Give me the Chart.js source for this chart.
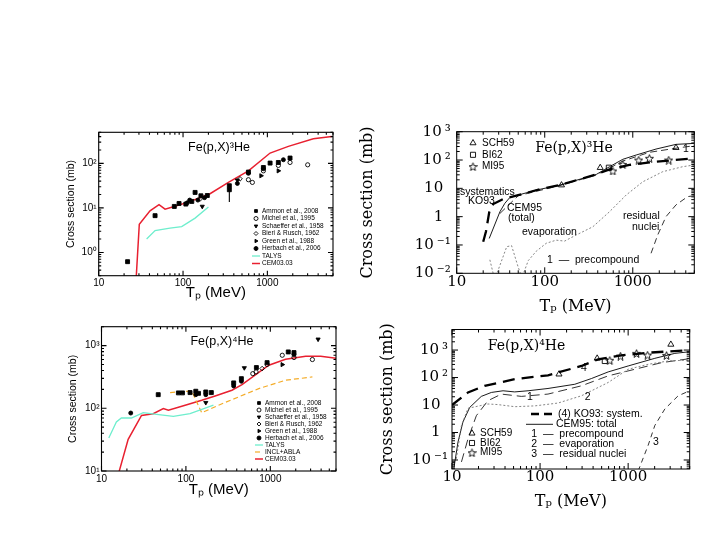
<!DOCTYPE html>
<html>
<head>
<meta charset="utf-8">
<script src="https://cdn.jsdelivr.net/npm/chart.js@4.4.0/dist/chart.umd.min.js"></script>
<style>
  body { margin: 0; background: #fff; }
  #page { position: relative; width: 706px; height: 545px; overflow: hidden; background: #fff; }
  canvas { position: absolute; }
</style>
</head>
<body>
<div id="page">
  <canvas id="he3Left"  width="310" height="185" style="left:40px;top:120px;width:310px;height:185px"></canvas>
  <canvas id="he4Left"  width="310" height="190" style="left:40px;top:315px;width:310px;height:190px"></canvas>
  <canvas id="he3Right" width="354" height="225" style="left:350px;top:100px;width:354px;height:225px"></canvas>
  <canvas id="he4Right" width="334" height="222" style="left:370px;top:318px;width:334px;height:222px"></canvas>
</div>
<script>
// ---------- data : Fe(p,X)3He, left panel ----------
var cemHe3E   = [27, 30.3, 40.6, 51.9, 61.2, 76.8, 115.6, 209, 345, 596, 1077, 1774, 3508, 5800];
var cemHe3Xs  = [0.1, 4.3, 8.6, 11.8, 9.4, 10.6, 13.5, 20.8, 37.4, 68, 171, 241, 358, 404];
var talysHe3E  = [37, 46.6, 70, 96.4, 139, 200];
var talysHe3Xs = [2.0, 3.1, 3.5, 3.8, 5.9, 10.5];
var ammonHe3E  = [22, 46.6, 78.8, 89.7, 108, 127, 139, 163, 194, 354, 354, 596, 897, 1077, 1349, 1857];
var ammonHe3Xs = [0.62, 6.7, 10.8, 12.6, 12.2, 14, 22.3, 18.7, 19, 31.5, 25.6, 63.9, 81, 101.7, 105, 132];
var michelHe3E  = [596, 664, 897, 1349, 1857, 3006];
var michelHe3Xs = [43, 37.4, 68, 90, 105, 93];
var schaefHe3E  = [169, 441];
var schaefHe3Xs = [10.8, 42];
var bieriHe3E  = [160, 474];
var bieriHe3Xs = [16, 45];
var greenHe3E  = [841, 1349];
var greenHe3Xs = [52.8, 68];
var herbHe3E  = [112, 120, 150, 180, 441, 596, 897, 1549];
var herbHe3Xs = [13, 15, 15, 17, 35.5, 60, 76, 121];
var errHe3E = [354], errHe3Lo = [13.5], errHe3Hi = [31.5];

// ---------- data : Fe(p,X)4He, left panel ----------
var cemHe4E   = [15.5, 20.7, 29.8, 41, 54, 62, 98, 154, 222, 351, 462, 697, 960, 1515, 2621, 3957, 6250];
var cemHe4Xs  = [8, 32, 77, 82, 99, 93, 112, 134, 157, 194, 239, 357, 486, 605, 676, 676, 621];
var talysHe4E  = [12.2, 15, 17.2, 22.6, 31.2, 45, 71, 112, 212];
var talysHe4Xs = [33.6, 60.5, 70, 70, 85, 80, 74.5, 82, 112];
var inclHe4E  = [65, 117, 154, 244, 422, 730, 1515, 3150];
var inclHe4Xs = [178, 189, 85, 112, 152, 206, 280, 316];
var ammonHe4E  = [47, 81.5, 91, 112, 131, 141, 172, 200, 368, 454, 684, 916, 1632, 1907];
var ammonHe4Xs = [165, 176, 176, 178, 187, 173, 182, 178, 254, 297, 446, 535, 792, 773];
var michelHe4E  = [620, 678, 916, 1385, 1907, 3150];
var michelHe4Xs = [357, 380, 500, 701, 645, 599];
var schaefHe4E  = [172, 492, 3680];
var schaefHe4Xs = [123, 441, 1262];
var bieriHe4E  = [800];
var bieriHe4Xs = [430];
var greenHe4E  = [1385];
var greenHe4Xs = [497];
var herbHe4E  = [22.2, 131, 172, 368, 454, 1907];
var herbHe4Xs = [84, 165, 165, 227, 270, 720];

// ---------- data : Fe(p,X)3He, right panel ----------
var totHe3E  = [23.4, 31, 35.2, 40, 50, 80.5, 148, 385, 545, 771, 1091, 1837, 3097, 5000];
var totHe3Xs = [0.17, 1.5, 2.95, 4.7, 5.8, 8.7, 13, 31, 58, 106, 150, 244, 357, 387];
var ko93He3E  = [20, 21.5, 23.4, 26, 33.7, 50, 87.8, 148, 385, 545, 916, 1837, 5000];
var ko93He3Xs = [0.13, 0.30, 1.42, 2.8, 4.2, 5.8, 9.2, 13, 31, 47, 67, 87, 115];
var precoHe3E  = [31, 50, 148, 385, 771, 1545, 3370, 5000];
var precoHe3Xs = [1.3, 5.5, 12.5, 29.5, 92, 187, 272, 320];
var evapHe3E  = [23.8, 27, 37, 42, 49.5, 55, 65, 80, 104, 135, 168, 228, 352, 545, 841, 1298, 2188, 3680, 5000];
var evapHe3Xs = [0.03, 0.006, 0.087, 0.095, 0.018, 0.007, 0.028, 0.06, 0.115, 0.148, 0.137, 0.225, 0.44, 1.5, 5.8, 17, 38.7, 58, 67];
var residHe3E  = [1614, 1919, 2385, 3097, 4200, 5000];
var residHe3Xs = [0.051, 0.225, 1, 2.6, 5.1, 5.5];
var sch59He3E = [155, 427, 3097], sch59He3Xs = [13, 53.6, 272];
var bi62He3E = [535], bi62He3Xs = [53.6];
var mi95He3E = [594, 771, 1169, 1545, 2559], mi95He3Xs = [41, 70, 100, 115, 100];

// ---------- data : Fe(p,X)4He, right panel ----------
var totHe4E  = [10.5, 11.7, 13.3, 15.9, 21.5, 28, 38, 51.5, 73, 123, 248, 383, 593, 1000, 2009, 3390, 5000];
var totHe4Xs = [0.05, 0.45, 2.4, 8.2, 20.6, 28.7, 33, 30, 33, 40, 57, 92, 160, 264, 500, 758, 870];
var ko93He4E  = [10, 15.2, 23.5, 51.5, 123, 295, 456, 840, 1686, 5000];
var ko93He4Xs = [10, 28.7, 50, 87, 121, 264, 460, 641, 800, 1000];
var precoHe4E  = [12.8, 15.2, 18.9, 25.6, 36.4, 61.4, 123, 295, 593, 1191, 2393, 5000];
var precoHe4Xs = [0.085, 0.59, 4.1, 14.4, 25, 20.6, 25, 50, 115, 200, 348, 487];
var evapHe4E  = [11.2, 12.8, 15.2, 25.6, 33, 51.5, 87, 160, 295, 593, 1000, 1686, 2838, 5000];
var evapHe4Xs = [0.11, 1.8, 7.6, 10.9, 10.4, 8.7, 9.3, 11.8, 21.7, 66, 200, 303, 400, 435];
var residHe4E  = [1300, 1686, 2009, 2612, 3700, 5000];
var residHe4Xs = [0.04, 0.34, 1.8, 7.2, 21.7, 33];
var sch59He4E = [164, 445, 3055], sch59He4Xs = [132, 500, 1600];
var bi62He4E = [543], bi62He4Xs = [400];
var mi95He4E = [619, 818, 1245, 1660, 2729], mi95He4Xs = [424, 607, 759, 659, 641];

// ---------- tick labels ----------
var energyTicks = [10, 100, 1000];
var energyLabels = ['10', '100', '1000'];
var he3LeftYTicks = [1, 10, 100], he3LeftYLabels = ['10⁰', '10¹', '10²'];
var he4LeftYTicks = [10, 100, 1000], he4LeftYLabels = ['10¹', '10²', '10³'];
var he3RightYTicks = [0.01, 0.1, 1, 10, 100, 1000];
var he3RightYLabels = ['10\u2009⁻²', '10\u2009⁻¹', '1\u2002', '10\u2002', '10\u2009²', '10\u2009³'];
var he4RightYTicks = [0.1, 1, 10, 100, 1000];
var he4RightYLabels = ['10\u2009⁻¹', '1\u2002', '10\u2002', '10\u2009²', '10\u2009³'];

var SANS = '"Liberation Sans", Arial, sans-serif';
var SERIF = '"DejaVu Serif", serif';

function pts(xs, ys) { return xs.map(function (x, i) { return {x: x, y: ys[i]}; }); }

function curve(label, xs, ys, color, width, dash) {
  return {label: label, data: pts(xs, ys), showLine: true, borderColor: color, borderWidth: width,
          borderDash: dash || [], pointRadius: 0, fill: false, tension: 0};
}
function marks(label, xs, ys, style, r, filled, rot) {
  return {label: label, data: pts(xs, ys), showLine: false, pointStyle: style, pointRadius: r,
          pointRotation: rot || 0, pointBackgroundColor: filled ? '#000' : 'rgba(0,0,0,0)',
          pointBorderColor: '#000', pointBorderWidth: 0.9};
}

function starImage(size) {
  var c = document.createElement('canvas');
  c.width = c.height = size;
  var g = c.getContext('2d');
  g.strokeStyle = '#000'; g.lineWidth = 0.9;
  g.beginPath();
  for (var i = 0; i < 10; i++) {
    var r = i % 2 ? size * 0.2 : size * 0.47;
    var a = -Math.PI / 2 + i * Math.PI / 5;
    var px = size / 2 + r * Math.cos(a), py = size / 2 + 0.5 + r * Math.sin(a);
    if (i) g.lineTo(px, py); else g.moveTo(px, py);
  }
  g.closePath(); g.stroke();
  return c;
}

function logSteps(min, max) {
  var out = [];
  for (var d = Math.floor(Math.log10(min)); d <= Math.ceil(Math.log10(max)); d++) {
    for (var m = 1; m < 10; m++) {
      var v = m * Math.pow(10, d);
      if (v >= min * 0.999 && v <= max * 1.001) out.push({v: v, major: m === 1});
    }
  }
  return out;
}

// frame with inward major/minor ticks on all four sides
var frameTicks = {
  id: 'frameTicks',
  afterDatasetsDraw: function (chart, args, o) {
    var ctx = chart.ctx, a = chart.chartArea, x = chart.scales.x, y = chart.scales.y;
    ctx.save();
    ctx.strokeStyle = '#000'; ctx.lineWidth = o.width; ctx.setLineDash([]);
    ctx.strokeRect(a.left, a.top, a.right - a.left, a.bottom - a.top);
    ctx.beginPath();
    logSteps(x.min, x.max).forEach(function (s) {
      var p = x.getPixelForValue(s.v), L = s.major ? o.major : o.minor;
      ctx.moveTo(p, a.bottom); ctx.lineTo(p, a.bottom - L);
      ctx.moveTo(p, a.top); ctx.lineTo(p, a.top + L);
    });
    logSteps(y.min, y.max).forEach(function (s) {
      var p = y.getPixelForValue(s.v), L = s.major ? o.major : o.minor;
      ctx.moveTo(a.left, p); ctx.lineTo(a.left + L, p);
      ctx.moveTo(a.right, p); ctx.lineTo(a.right - L, p);
    });
    ctx.stroke();
    (o.errors || []).forEach(function (e) {
      ctx.beginPath();
      ctx.moveTo(x.getPixelForValue(e[0]), y.getPixelForValue(e[1]));
      ctx.lineTo(x.getPixelForValue(e[0]), y.getPixelForValue(e[2]));
      ctx.stroke();
    });
    ctx.restore();
  }
};

// in-plot key built from the datasets themselves
var keyBox = {
  id: 'keyBox',
  afterDatasetsDraw: function (chart, args, o) {
    if (!o.rows) return;
    var ctx = chart.ctx;
    ctx.save();
    o.rows.forEach(function (label, i) {
      var ds = chart.data.datasets.filter(function (d) { return d.label === label; })[0];
      var y = o.y + i * o.dy;
      if (ds.showLine) {
        ctx.strokeStyle = ds.borderColor; ctx.lineWidth = ds.borderWidth;
        ctx.setLineDash(ds.borderDash || []);
        ctx.beginPath(); ctx.moveTo(o.x - o.len / 2, y); ctx.lineTo(o.x + o.len / 2, y); ctx.stroke();
        ctx.setLineDash([]);
      } else {
        ctx.fillStyle = ds.pointBackgroundColor; ctx.strokeStyle = ds.pointBorderColor;
        ctx.lineWidth = ds.pointBorderWidth;
        Chart.helpers.drawPoint(ctx, {pointStyle: ds.pointStyle, rotation: ds.pointRotation,
          radius: o.r || ds.pointRadius, borderWidth: ds.pointBorderWidth}, o.x, y);
      }
      ctx.fillStyle = '#000'; ctx.font = o.font; ctx.textAlign = 'left'; ctx.textBaseline = 'middle';
      ctx.fillText(label, o.x + o.gap, y);
    });
    ctx.restore();
  }
};

// free text and sample lines placed on the canvas
var notes = {
  id: 'notes',
  afterDatasetsDraw: function (chart, args, o) {
    var ctx = chart.ctx;
    ctx.save();
    (o.lines || []).forEach(function (l) {
      ctx.strokeStyle = '#000'; ctx.lineWidth = l.w; ctx.setLineDash(l.dash || []);
      ctx.beginPath(); ctx.moveTo(l.x1, l.y); ctx.lineTo(l.x2, l.y); ctx.stroke();
    });
    ctx.setLineDash([]);
    (o.items || []).forEach(function (t) {
      ctx.font = t.font; ctx.fillStyle = '#000';
      ctx.textAlign = t.align || 'left'; ctx.textBaseline = 'middle';
      ctx.fillText(t.text, t.x, t.y);
    });
    ctx.restore();
  }
};

function logAxis(o) {
  return {
    type: 'logarithmic', position: o.pos, min: o.min, max: o.max,
    grid: {display: false, drawTicks: false}, border: {display: false},
    afterBuildTicks: function (s) { s.ticks = o.ticks.map(function (v) { return {value: v}; }); },
    afterFit: function (s) { if (o.pos === 'bottom') s.height = o.fit; else s.width = o.fit; },
    ticks: {autoSkip: false, maxRotation: 0, color: '#000', padding: o.pad, font: o.font,
            callback: function (v, i) { return o.labels[i]; }},
    title: {display: true, text: o.title, color: '#000', font: o.titleFont,
            padding: o.pos === 'bottom' ? {top: 0, bottom: o.titlePad} : {top: o.titlePad, bottom: 0}}
  };
}

function panel(id, top, right, xAxis, yAxis, datasets, plugins) {
  plugins.legend = {display: false};
  plugins.tooltip = {enabled: false};
  return new Chart(document.getElementById(id), {
    type: 'scatter',
    data: {datasets: datasets},
    options: {
      responsive: false, animation: false, devicePixelRatio: 1, events: [],
      layout: {padding: {left: 0, top: top, right: right, bottom: 0}},
      plugins: plugins,
      scales: {x: xAxis, y: yAxis}
    },
    plugins: [frameTicks, keyBox, notes]
  });
}

var RED = 'rgb(232,32,48)', CYAN = 'rgb(110,238,205)', ORANGE = 'rgb(244,172,40)';
var sansTick = {family: SANS, size: 10};
var sansTitle = {family: SANS, size: 10.5};
var sansX = {family: SANS, size: 15};
var serifTick = {family: SERIF, size: 15, lineHeight: 1};
var serifTitle = {family: SERIF, size: 16};
var star = starImage(9);

// ---------- top left ----------
panel('he3Left', 12.3, 17,
  logAxis({pos: 'bottom', min: 10, max: 6000, ticks: energyTicks, labels: energyLabels, fit: 29.3, pad: 2,
           font: sansTick, title: 'Tₚ (MeV)', titleFont: sansX, titlePad: 3}),
  logAxis({pos: 'left', min: 0.3, max: 500, ticks: he3LeftYTicks, labels: he3LeftYLabels, fit: 58.7, pad: 2,
           font: sansTick, title: 'Cross section (mb)', titleFont: sansTitle, titlePad: 24.4}),
  [
    marks('Ammon et al., 2008', ammonHe3E, ammonHe3Xs, 'rect', 2.8, true),
    marks('Michel et al., 1995', michelHe3E, michelHe3Xs, 'circle', 2.1, false),
    marks('Schaeffer et al., 1958', schaefHe3E, schaefHe3Xs, 'triangle', 2.4, true, 180),
    marks('Bieri & Rusch, 1962', bieriHe3E, bieriHe3Xs, 'rectRot', 2.3, false),
    marks('Green et al., 1988', greenHe3E, greenHe3Xs, 'triangle', 2.4, true, 90),
    marks('Herbach et al., 2006', herbHe3E, herbHe3Xs, 'circle', 2.0, true),
    curve('TALYS', talysHe3E, talysHe3Xs, CYAN, 1.3),
    curve('CEM03.03', cemHe3E, cemHe3Xs, RED, 1.5)
  ],
  {
    frameTicks: {width: 1.1, major: 5, minor: 2.5, errors: [[errHe3E[0], errHe3Lo[0], errHe3Hi[0]]]},
    keyBox: {x: 216, y: 91, dy: 7.5, gap: 6, len: 8, r: 2, font: '6.5px ' + SANS,
             rows: ['Ammon et al., 2008', 'Michel et al., 1995', 'Schaeffer et al., 1958', 'Bieri & Rusch, 1962',
                    'Green et al., 1988', 'Herbach et al., 2006', 'TALYS', 'CEM03.03']},
    notes: {items: [{text: 'Fe(p,X)³He', x: 179, y: 28, align: 'center', font: '12.5px ' + SANS}]}
  });

// ---------- bottom left ----------
panel('he4Left', 11.7, 14,
  logAxis({pos: 'bottom', min: 10, max: 6000, ticks: energyTicks, labels: energyLabels, fit: 34, pad: 2,
           font: sansTick, title: 'Tₚ (MeV)', titleFont: sansX, titlePad: 6}),
  logAxis({pos: 'left', min: 10, max: 2000, ticks: he4LeftYTicks, labels: he4LeftYLabels, fit: 61.5, pad: 2,
           font: sansTick, title: 'Cross section (mb)', titleFont: sansTitle, titlePad: 26.4}),
  [
    marks('Ammon et al., 2008', ammonHe4E, ammonHe4Xs, 'rect', 2.8, true),
    marks('Michel et al., 1995', michelHe4E, michelHe4Xs, 'circle', 2.1, false),
    marks('Schaeffer et al., 1958', schaefHe4E, schaefHe4Xs, 'triangle', 2.4, true, 180),
    marks('Bieri & Rusch, 1962', bieriHe4E, bieriHe4Xs, 'rectRot', 2.3, false),
    marks('Green et al., 1988', greenHe4E, greenHe4Xs, 'triangle', 2.4, true, 90),
    marks('Herbach et al., 2006', herbHe4E, herbHe4Xs, 'circle', 2.0, true),
    curve('TALYS', talysHe4E, talysHe4Xs, CYAN, 1.3),
    curve('INCL+ABLA', inclHe4E, inclHe4Xs, ORANGE, 1.2, [5, 3]),
    curve('CEM03.03', cemHe4E, cemHe4Xs, RED, 1.5)
  ],
  {
    frameTicks: {width: 1.1, major: 5, minor: 2.5},
    keyBox: {x: 219, y: 88, dy: 7, gap: 6, len: 8, r: 2, font: '6.5px ' + SANS,
             rows: ['Ammon et al., 2008', 'Michel et al., 1995', 'Schaeffer et al., 1958', 'Bieri & Rusch, 1962',
                    'Green et al., 1988', 'Herbach et al., 2006', 'TALYS', 'INCL+ABLA', 'CEM03.03']},
    notes: {items: [{text: 'Fe(p,X)⁴He', x: 182, y: 27, align: 'center', font: '12.5px ' + SANS}]}
  });

// ---------- top right ----------
var noteFont = '10.5px ' + SANS;
panel('he3Right', 31.7, 9.7,
  logAxis({pos: 'bottom', min: 10, max: 5000, ticks: energyTicks, labels: energyLabels, fit: 51.7, pad: 1,
           font: serifTick, title: 'Tₚ (MeV)', titleFont: serifTitle, titlePad: 8.4}),
  logAxis({pos: 'left', min: 0.01, max: 1000, ticks: he3RightYTicks, labels: he3RightYLabels, fit: 106.7, pad: 6,
           font: serifTick, title: 'Cross section (mb)', titleFont: serifTitle, titlePad: 8.4}),
  [
    curve('evaporation', evapHe3E, evapHe3Xs, '#777', 0.9, [2, 2]),
    curve('residual nuclei', residHe3E, residHe3Xs, '#000', 0.8, [6, 4]),
    curve('precompound', precoHe3E, precoHe3Xs, '#000', 0.8, [7, 4]),
    curve('CEM95 total', totHe3E, totHe3Xs, '#000', 0.9),
    curve('KO93', ko93He3E, ko93He3Xs, '#000', 2.3, [12, 7]),
    marks('SCH59', sch59He3E, sch59He3Xs, 'triangle', 3.5, false),
    marks('BI62', bi62He3E, bi62He3Xs, 'rect', 3.6, false),
    marks('MI95', mi95He3E, mi95He3Xs, star, 4, false)
  ],
  {
    frameTicks: {width: 1, major: 6, minor: 3},
    keyBox: {x: 123, y: 43, dy: 11.8, gap: 9, len: 8, font: '10px ' + SANS, rows: ['SCH59', 'BI62', 'MI95']},
    notes: {items: [
      {text: 'Fe(p,X)³He', x: 224, y: 48, align: 'center', font: '14px ' + SERIF},
      {text: 'systematics', x: 110, y: 91.7, font: noteFont},
      {text: 'KO93', x: 118, y: 101, font: noteFont},
      {text: 'CEM95', x: 157, y: 108, font: noteFont},
      {text: '(total)', x: 158, y: 117.7, font: noteFont},
      {text: 'evaporation', x: 172, y: 132, font: noteFont},
      {text: '1  \u2014  precompound', x: 197, y: 160, font: noteFont},
      {text: 'residual', x: 273, y: 116, font: noteFont},
      {text: 'nuclei', x: 282, y: 126.7, font: noteFont},
      {text: '1', x: 333, y: 49, font: noteFont}
    ]}
  });

// ---------- bottom right ----------
panel('he4Right', 10.3, 14.3,
  logAxis({pos: 'bottom', min: 10, max: 5000, ticks: energyTicks, labels: energyLabels, fit: 71, pad: 1,
           font: serifTick, title: 'Tₚ (MeV)', titleFont: serifTitle, titlePad: 28.7}),
  logAxis({pos: 'left', min: 0.047, max: 5600, ticks: he4RightYTicks, labels: he4RightYLabels, fit: 82, pad: 4,
           font: serifTick, title: 'Cross section (mb)', titleFont: serifTitle, titlePad: 8.4}),
  [
    curve('evaporation', evapHe4E, evapHe4Xs, '#777', 0.9, [2, 2]),
    curve('residual nuclei', residHe4E, residHe4Xs, '#000', 0.8, [5, 4]),
    curve('precompound', precoHe4E, precoHe4Xs, '#000', 0.8, [9, 5]),
    curve('CEM95 total', totHe4E, totHe4Xs, '#000', 0.9),
    curve('KO93', ko93He4E, ko93He4Xs, '#000', 2.3, [12, 7]),
    marks('SCH59', sch59He4E, sch59He4Xs, 'triangle', 3.5, false),
    marks('BI62', bi62He4E, bi62He4Xs, 'rect', 3.6, false),
    marks('MI95', mi95He4E, mi95He4Xs, star, 4, false)
  ],
  {
    frameTicks: {width: 1, major: 6, minor: 3},
    keyBox: {x: 102, y: 115.3, dy: 9.7, gap: 8, len: 8, font: '10px ' + SANS, rows: ['SCH59', 'BI62', 'MI95']},
    notes: {
      lines: [{x1: 161, x2: 183, y: 96, w: 2.3, dash: [8, 5]}, {x1: 156, x2: 183, y: 106.3, w: 0.9}],
      items: [
        {text: 'Fe(p,X)⁴He', x: 156.5, y: 28.7, align: 'center', font: '14px ' + SERIF},
        {text: '4', x: 211, y: 50, font: noteFont},
        {text: '1', x: 157, y: 78.7, font: noteFont},
        {text: '2', x: 214.7, y: 78.7, font: noteFont},
        {text: '3', x: 283, y: 123.7, font: noteFont},
        {text: '(4) KO93: system.', x: 188, y: 96, font: noteFont},
        {text: 'CEM95: total', x: 186, y: 106.3, font: noteFont},
        {text: '1  \u2014  precompound', x: 161.3, y: 116.3, font: noteFont},
        {text: '2  \u2014  evaporation', x: 161.3, y: 126, font: noteFont},
        {text: '3  \u2014  residual nuclei', x: 161.3, y: 136.3, font: noteFont}
      ]
    }
  });
</script>
</body>
</html>
